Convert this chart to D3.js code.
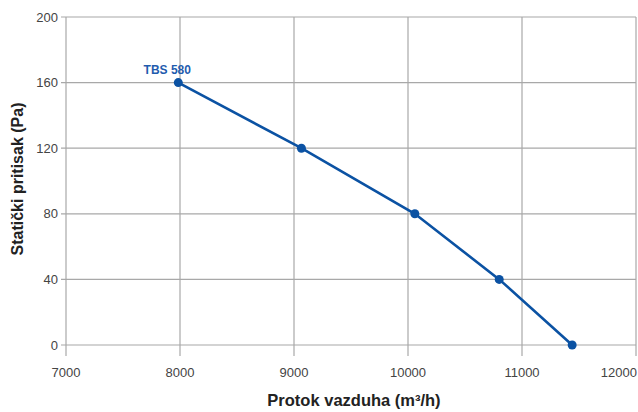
<!DOCTYPE html>
<html>
<head>
<meta charset="utf-8">
<script src="https://cdn.jsdelivr.net/npm/d3@7"></script>
<style>
  body { margin: 0; background: #fff; }
  text { font-family: "Liberation Sans", Arial, Helvetica, sans-serif; }
</style>
</head>
<body>
<div id="chart"></div>
<script>
// flow (m3/h) vs static pressure (Pa)
var flow = [7985, 9065, 10060, 10800, 11440];
var pressure = [160, 120, 80, 40, 0];
var xTicks = [7000, 8000, 9000, 10000, 11000, 12000];
var yTicks = [0, 40, 80, 120, 160, 200];
var seriesName = "TBS 580";

var width = 638, height = 412;
var margin = { top: 17, right: 2, bottom: 67, left: 66 };

var svg = d3.select("#chart").append("svg")
  .attr("width", width)
  .attr("height", height);

var x = d3.scaleLinear().domain([7000, 12000]).range([margin.left, width - margin.right]);
var y = d3.scaleLinear().domain([0, 200]).range([height - margin.bottom, margin.top]);

var grid = "#a8a8a8";

// gridlines
svg.append("g").selectAll("line.vx")
  .data(xTicks).enter().append("line")
  .attr("x1", function(d) { return x(d); })
  .attr("x2", function(d) { return x(d); })
  .attr("y1", y(200)).attr("y2", y(0) + 11)
  .attr("stroke", grid).attr("stroke-width", 1.2);

svg.append("g").selectAll("line.hy")
  .data(yTicks).enter().append("line")
  .attr("x1", x(7000) - 5).attr("x2", x(12000))
  .attr("y1", function(d) { return y(d); })
  .attr("y2", function(d) { return y(d); })
  .attr("stroke", grid).attr("stroke-width", 1.2);

// tick labels
svg.append("g").selectAll("text")
  .data(yTicks).enter().append("text")
  .attr("x", x(7000) - 8)
  .attr("y", function(d) { return y(d); })
  .attr("dy", "0.35em")
  .attr("text-anchor", "end")
  .attr("font-size", 13)
  .attr("fill", "#444")
  .text(function(d) { return d; });

// last label sits flush with the right edge
svg.append("g").selectAll("text")
  .data(xTicks).enter().append("text")
  .attr("x", function(d, i) { return i === xTicks.length - 1 ? x(d) + 1 : x(d); })
  .attr("y", y(0) + 32)
  .attr("text-anchor", function(d, i) { return i === xTicks.length - 1 ? "end" : "middle"; })
  .attr("font-size", 13)
  .attr("fill", "#444")
  .text(function(d) { return d; });

// axis titles
svg.append("text")
  .attr("x", 354).attr("y", 406)
  .attr("text-anchor", "middle")
  .attr("font-size", 16.5).attr("font-weight", "bold")
  .attr("fill", "#222")
  .text("Protok vazduha (m³/h)");

svg.append("text")
  .attr("transform", "translate(23," + ((y(0) + y(200)) / 2 - 2) + ") rotate(-90)")
  .attr("text-anchor", "middle")
  .attr("font-size", 16).attr("font-weight", "bold")
  .attr("fill", "#222")
  .text("Statički pritisak (Pa)");

// series
var pts = flow.map(function(f, i) { return [f, pressure[i]]; });
var blue = "#0b52a3";

svg.append("path")
  .datum(pts)
  .attr("fill", "none")
  .attr("stroke", blue)
  .attr("stroke-width", 2.6)
  .attr("d", d3.line().x(function(d) { return x(d[0]); }).y(function(d) { return y(d[1]); }));

svg.append("g").selectAll("circle")
  .data(pts).enter().append("circle")
  .attr("cx", function(d) { return x(d[0]); })
  .attr("cy", function(d) { return y(d[1]); })
  .attr("r", 4.5)
  .attr("fill", blue);

svg.append("text")
  .attr("x", x(flow[0]) - 11)
  .attr("y", y(pressure[0]) - 9)
  .attr("text-anchor", "middle")
  .attr("font-size", 12).attr("font-weight", "bold")
  .attr("fill", "#1f5cae")
  .text(seriesName);
</script>
</body>
</html>
